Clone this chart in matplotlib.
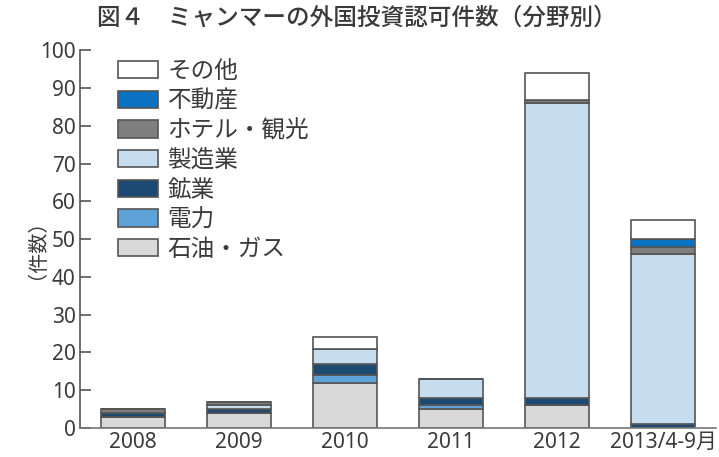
import matplotlib

matplotlib.use("Agg")
import matplotlib.pyplot as plt
import numpy as np

plt.rcParams["font.family"] = ["Noto Sans", "Noto Sans CJK JP", "DejaVu Sans"]

years = ["2008", "2009", "2010", "2011", "2012", "2013/4-9月"]
sectors = ["石油・ガス", "電力", "鉱業", "製造業", "ホテル・観光", "不動産", "その他"]
oil_gas = [3, 4, 12, 5, 6, 0]
power = [0, 0, 2, 1, 0, 0]
mining = [1, 1, 3, 2, 2, 1]
manufacturing = [0, 1, 4, 5, 78, 45]
hotel = [1, 1, 0, 0, 1, 2]
real_estate = [0, 0, 0, 0, 0, 2]
others = [0, 0, 3, 0, 7, 5]

series = [oil_gas, power, mining, manufacturing, hotel, real_estate, others]
colors = ["#d9d9d9", "#5da3d8", "#1d4a73", "#c6ddf0", "#7f7f7f", "#0a72c0", "#ffffff"]
text_c = "#3a3a3a"
edge_c = "#555555"

fig = plt.figure(figsize=(7.19, 4.57), dpi=100)
ax = fig.add_axes([0.111, 0.0635, 0.885, 0.826])

x = np.arange(len(years))
bottom = np.zeros(len(years))
handles = []
for name, vals, col in zip(sectors, series, colors):
    vals = np.array(vals, dtype=float)
    b = ax.bar(x, vals, 0.6, bottom=bottom, color=col, edgecolor=edge_c,
               linewidth=1.2, label=name)
    handles.append(b)
    bottom += vals

ax.set_xlim(-0.5, len(years) - 0.5)
ax.set_ylim(0, 100)
ax.set_yticks(range(0, 101, 10))
ax.set_xticks(x)
ax.set_xticklabels(years)
ax.tick_params(axis="y", direction="in", length=8, width=1.2, colors=edge_c,
               labelcolor=text_c, labelsize=15, pad=3)
ax.tick_params(axis="x", length=0, labelcolor=text_c, labelsize=15, pad=3)
for s in ["top", "right"]:
    ax.spines[s].set_visible(False)
ax.spines["left"].set_color(edge_c)
ax.spines["bottom"].set_color("#777777")
ax.spines["left"].set_linewidth(1.2)
ax.spines["bottom"].set_linewidth(1.2)

ax.set_ylabel("（件数）", color=text_c, fontsize=14.5, labelpad=2)

leg = ax.legend(handles[::-1], sectors[::-1], loc="upper left",
                bbox_to_anchor=(0.06, 0.975), frameon=False, fontsize=17,
                handlelength=1.7, handleheight=0.75, labelspacing=0.24,
                handletextpad=0.4, borderaxespad=0, borderpad=0)
for t in leg.get_texts():
    t.set_color(text_c)

fig.text(0.497, 0.96, "図４　ミャンマーの外国投資認可件数（分野別）", ha="center",
         va="center", fontsize=17, fontweight="medium", color=text_c)

fig.savefig("out.png", dpi=100)
